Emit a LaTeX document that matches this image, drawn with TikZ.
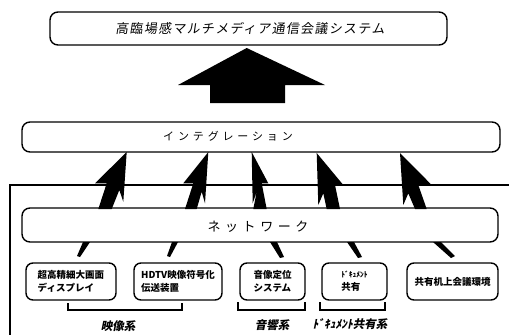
\documentclass[tikz,border=0pt]{standalone}
\usepackage{fontspec}
\newfontfamily\jp{Noto Sans CJK JP}
\newfontfamily\jpsl[FakeSlant=0.2]{Noto Sans CJK JP}
\newfontfamily\jpsp[FakeSlant=0.15,LetterSpace=10]{Noto Sans CJK JP}
\newfontfamily\jpwide[LetterSpace=35]{Noto Sans CJK JP}
\begin{document}
\begin{tikzpicture}[x=1pt,y=-1pt,
  rbox/.style={draw, line width=1.4pt, rounded corners=8pt, inner sep=2pt},
  sbox/.style={rbox, rounded corners=7pt, minimum height=37pt, align=left, font=\jp\bfseries\fontsize{9.5}{13}\selectfont},
  brk/.style={line width=1.4pt},
  blabel/.style={font=\jpsl\bfseries\fontsize{11.5}{12}\selectfont}]
\useasboundingbox (0,0) rectangle (509,335);

% frame lines
\draw[line width=1.1pt] (509,185) -- (10,185) -- (10,335);

% boxes
\node[rbox, minimum width=397pt, minimum height=33pt] (top) at (248.5,28.5) {};
\node[font=\jpsp\fontsize{13}{14}\selectfont] (toptxt) at (250,28.5) {高臨場感マルチメディア通信会議システム};

\node[rbox, fill=white, minimum width=478pt, minimum height=30pt] (integ) at (261,137) {};
\node[font=\jpwide\fontsize{11}{12}\selectfont] (integtxt) at (228,136) {インテグレーション};

\node[rbox, fill=white, minimum width=476pt, minimum height=34pt] (net) at (260,225) {};
\node[font=\jpwide\fontsize{13}{14}\selectfont] (nettxt) at (258,227) {ネットワーク};

% big arrow
\fill (246.7,48) -- (325,85) -- (285,85) -- (285,103) -- (210,103) -- (210,85) -- (178,85) -- cycle;

% five arrows between network and integration
\fill (126.7,152) -- (123.3,201.7) -- (119.3,190) -- (111.7,209) -- (98.3,209) -- (106.7,183.3) -- (95,183.3) -- cycle;
\fill (208.3,152) -- (205,203.3) -- (201.7,191.7) -- (196.7,209) -- (185,209) -- (193.3,183.3) -- (183.3,183.3) -- cycle;
\fill (251.7,152) -- (268.3,183.3) -- (261.7,183.3) -- (266.7,209) -- (253.3,209) -- (256.7,191.7) -- (252.7,203.3) -- cycle;
\fill (316.7,153) -- (343.3,185) -- (335,185) -- (340,209) -- (326.7,209) -- (323.3,193.3) -- (318.3,205) -- cycle;
\fill (400,153) -- (431.7,185) -- (418.3,185) -- (426.7,209) -- (415,209) -- (408.3,193.3) -- (403.3,205) -- cycle;

% bottom boxes
\node[sbox, minimum width=90pt] (b1) at (71,281.5) {超高精細大画面\\ディスプレイ};
\node[sbox, minimum width=88pt] (b2) at (178,281.5) {HDTV映像符号化\\伝送装置};
\node[sbox, minimum width=65pt] (b3) at (272.5,281.5) {音像定位\\システム};
\node[sbox, minimum width=65pt] (b4) at (354.5,281.5) {{\fontsize{7.5}{9}\selectfont ﾄﾞｷｭﾒﾝﾄ}\\共有};
\node[sbox, minimum width=91pt] (b5) at (452.5,281.5) {共有机上会議環境};

% small arrows
\fill (83,242) -- (90,242) -- (80,257) -- (77,256) -- cycle;
\fill (172,242) -- (178,242) -- (170,257) -- (167,256) -- cycle;
\fill (270,242) -- (277,242) -- (284,257) -- (280,258) -- cycle;
\fill (347,242) -- (354,242) -- (362,257) -- (358,258) -- cycle;
\fill (433,242) -- (441,242) -- (455,256) -- (451,258) -- cycle;

% brackets
\draw[brk] (68,303) -- (68,310) -- (182,310) -- (182,303);
\draw[brk] (238,302) -- (238,310) -- (305,310) -- (305,302);
\draw[brk] (320,302) -- (320,310) -- (385,310) -- (385,302);

% labels
\node[blabel] (l1) at (118,326) {映像系};
\node[blabel] (l2) at (272,325) {音響系};
\node[blabel] (l3) at (350,324) {ﾄﾞｷｭﾒﾝﾄ共有系};
\end{tikzpicture}
\end{document}
